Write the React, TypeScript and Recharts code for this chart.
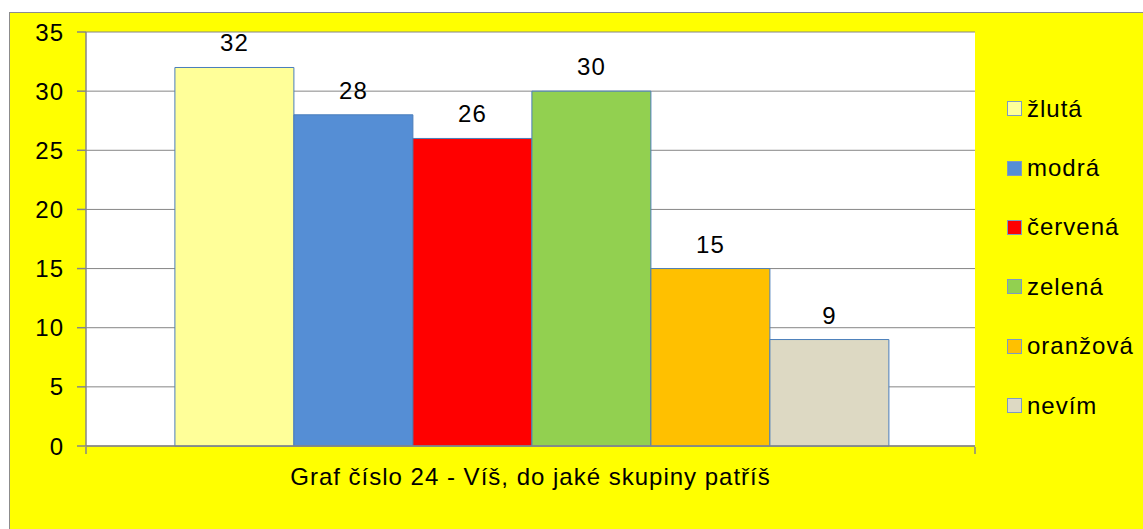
import React from 'react';
import { BarChart, Bar, XAxis, YAxis, CartesianGrid, Legend, LabelList } from 'recharts';

const categories = ['Graf číslo 24 - Víš, do jaké skupiny patříš'];
const seriesNames = ['žlutá', 'modrá', 'červená', 'zelená', 'oranžová', 'nevím'];
const seriesValues = [32, 28, 26, 30, 15, 9];
const seriesColors = ['#FFFF99', '#558ED5', '#FF0000', '#92D050', '#FFC000', '#DDD9C3'];
const yTicks = [0, 5, 10, 15, 20, 25, 30, 35];
const edgeTicks = [0, 1];

const seriesKeys = seriesNames.map((_, i) => `s${i}`);
const data = categories.map((name) => {
  const row: Record<string, string | number> = { name, edge: 0.5 };
  seriesKeys.forEach((k, i) => {
    row[k] = seriesValues[i];
  });
  return row;
});

const FONT = '"Liberation Sans", Arial, sans-serif';
const FS = 24;
const LS = '1px';
const AXIS = '#868686';

const CustomLegend = () => (
  <div style={{ fontFamily: FONT, fontSize: FS, letterSpacing: LS, color: '#000' }}>
    {seriesNames.map((n, i) => (
      <div key={n} style={{ height: 59.4, display: 'flex', alignItems: 'center' }}>
        <span
          style={{
            display: 'inline-block',
            width: 13,
            height: 13,
            background: seriesColors[i],
            border: '1px solid #7E9BC0',
            marginRight: 5,
            flex: 'none',
          }}
        />
        <span style={{ lineHeight: 1 }}>{n}</span>
      </div>
    ))}
  </div>
);

const EmptyTick = () => <g />;

export default function App() {
  return (
    <div style={{ position: 'relative', width: 1143, height: 529, overflow: 'hidden', background: '#fff' }}>
      <style>{'body{margin:0}'}</style>
      <div
        style={{
          position: 'absolute',
          left: 9,
          top: 12,
          width: 1200,
          height: 600,
          borderTop: '1px solid #8C8C8C',
          borderLeft: '1px solid #8C8C8C',
          background: '#FFFF00',
        }}
      >
        <BarChart
          width={1133}
          height={516}
          data={data}
          margin={{ top: 19, right: 168, bottom: 81, left: 0 }}
          barCategoryGap="10%"
          barGap={0}
        >
          <CartesianGrid vertical={false} stroke={AXIS} strokeWidth={1} fill="#FFFFFF" yAxisId="y" xAxisId="cat" />
          <XAxis
            xAxisId="cat"
            dataKey="name"
            height={1}
            tickLine={false}
            tickSize={0}
            tickMargin={22}
            interval={0}
            axisLine={{ stroke: AXIS, strokeWidth: 1.5 }}
            tick={{ fill: '#000', fontSize: FS, fontFamily: FONT, style: { letterSpacing: LS } }}
          />
          <XAxis
            xAxisId="edge"
            dataKey="edge"
            type="number"
            domain={[0, 1]}
            ticks={edgeTicks}
            interval={0}
            allowDataOverflow
            height={1}
            tick={EmptyTick}
            axisLine={false}
            tickSize={7}
            tickLine={{ stroke: AXIS, strokeWidth: 1.5 }}
          />
          <YAxis
            yAxisId="y"
            type="number"
            domain={[0, 35]}
            ticks={yTicks}
            width={76}
            tickSize={9}
            tickMargin={13}
            axisLine={{ stroke: AXIS, strokeWidth: 1.5 }}
            tickLine={{ stroke: AXIS, strokeWidth: 1.5 }}
            tick={{ fill: '#000', fontSize: FS, fontFamily: FONT, style: { letterSpacing: LS } }}
            interval={0}
          />
          <Legend
            layout="vertical"
            align="center"
            verticalAlign="middle"
            content={() => <CustomLegend />}
            wrapperStyle={{ left: 997, top: 66, width: 136 }}
          />
          {seriesKeys.map((k, i) => (
            <Bar
              key={k}
              dataKey={k}
              name={seriesNames[i]}
              xAxisId="cat"
              yAxisId="y"
              fill={seriesColors[i]}
              stroke="#4A7EBB"
              strokeWidth={1}
              isAnimationActive={false}
            >
              <LabelList
                dataKey={k}
                position="top"
                offset={16}
                fill="#000"
                fontSize={FS}
                fontFamily={FONT}
                style={{ letterSpacing: LS }}
              />
            </Bar>
          ))}
        </BarChart>
      </div>
    </div>
  );
}
